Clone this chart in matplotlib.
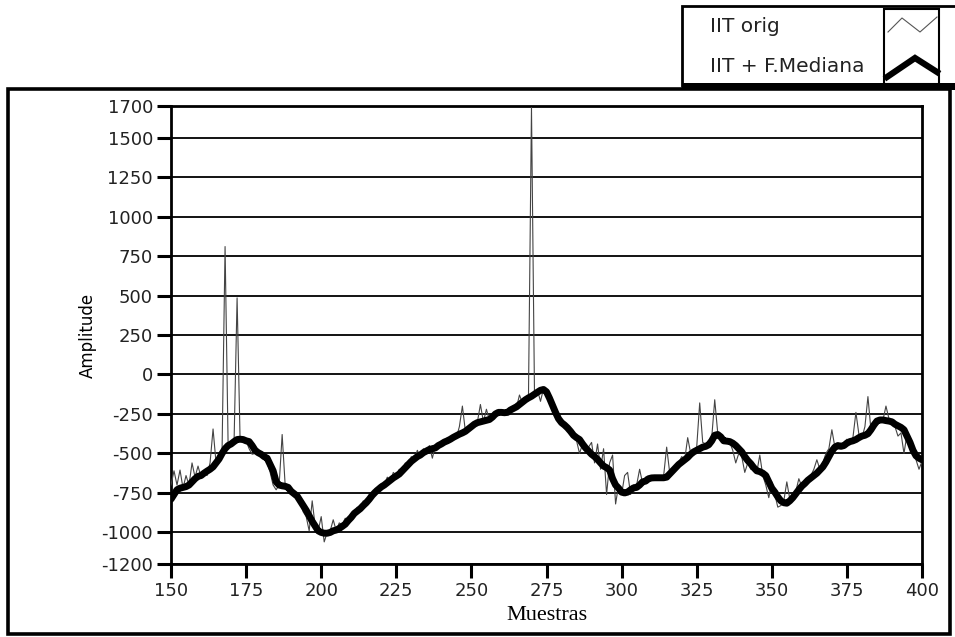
import numpy as np
import matplotlib.pyplot as plt
from matplotlib.patches import Rectangle
from matplotlib.lines import Line2D

plt.rcParams['axes.unicode_minus'] = False

# muestras 150..400
muestras = np.arange(150, 401)

iit_orig = [
    -700, -610, -700, -605, -720, -640, -700, -560, -650, -580,   # 150
    -650, -620, -640, -560, -345, -560, -530, -480, 810, -430,    # 160
    -445, -420, 485, -415, -405, -420, -470, -505, -500, -490,    # 170
    -500, -520, -560, -620, -700, -730, -700, -380, -700, -720,   # 180
    -740, -760, -780, -810, -870, -900, -990, -800, -960, -990,   # 190
    -900, -1060, -1000, -990, -920, -990, -940, -950, -910, -930, # 200
    -880, -890, -840, -860, -800, -820, -760, -780, -720, -740,   # 210
    -690, -700, -650, -680, -620, -640, -600, -620, -560, -580,   # 220
    -520, -540, -480, -520, -470, -500, -450, -530, -450, -460,   # 230
    -430, -440, -400, -420, -380, -400, -330, -200, -360, -340,   # 240
    -320, -310, -300, -190, -300, -220, -290, -270, -250, -250,   # 250
    -240, -250, -230, -220, -200, -210, -130, -180, -150, -140,   # 260
    1690, -120, -100, -170, -90, -120, -180, -230, -240, -300,    # 270
    -290, -330, -340, -380, -390, -420, -500, -440, -480, -460,   # 280
    -430, -560, -440, -600, -470, -760, -560, -510, -820, -700,   # 290
    -760, -640, -620, -760, -700, -700, -600, -690, -650, -660,   # 300
    -650, -660, -650, -660, -640, -460, -620, -600, -580, -560,   # 310
    -520, -540, -400, -500, -480, -460, -180, -430, -440, -420,   # 320
    -400, -160, -370, -390, -410, -420, -430, -480, -560, -500,   # 330
    -520, -620, -560, -600, -580, -620, -510, -640, -700, -780,   # 340
    -680, -760, -840, -830, -800, -680, -790, -770, -740, -660,   # 350
    -710, -680, -660, -640, -600, -540, -600, -560, -500, -470,   # 360
    -350, -460, -440, -450, -430, -410, -420, -400, -240, -380,   # 370
    -400, -330, -140, -350, -300, -300, -280, -290, -200, -280,   # 380
    -300, -330, -390, -370, -500, -380, -420, -460, -540, -600,   # 390
    -550,                                                         # 400
]

iit_mediana = [
    -790, -760, -730, -720, -715, -710, -700, -680, -660, -645,   # 150
    -640, -625, -612, -600, -585, -560, -535, -500, -470, -450,   # 160
    -440, -425, -412, -410, -412, -420, -425, -450, -480, -495,   # 170
    -505, -520, -530, -570, -610, -680, -700, -705, -708, -715,   # 180
    -740, -755, -770, -800, -830, -860, -895, -930, -960, -990,   # 190
    -1000, -1005, -1005, -1000, -990, -985, -975, -962, -948, -925, # 200
    -905, -880, -865, -850, -830, -812, -790, -765, -745, -728,   # 210
    -712, -700, -685, -670, -655, -643, -630, -610, -590, -570,   # 220
    -550, -535, -520, -510, -495, -485, -475, -470, -465, -450,   # 230
    -440, -428, -420, -410, -398, -388, -378, -370, -360, -345,   # 240
    -330, -315, -305, -300, -295, -290, -285, -270, -250, -240,   # 250
    -240, -242, -240, -225, -215, -205, -190, -175, -160, -148,   # 260
    -138, -125, -112, -100, -95, -110, -150, -195, -240, -280,    # 270
    -305, -320, -338, -360, -385, -400, -412, -440, -465, -485,   # 280
    -505, -520, -538, -560, -580, -590, -605, -660, -700, -720,   # 290
    -745, -750, -745, -730, -718, -715, -700, -680, -675, -660,   # 300
    -655, -654, -654, -654, -654, -650, -630, -610, -590, -570,   # 310
    -555, -540, -525, -505, -490, -480, -470, -460, -455, -445,   # 320
    -420, -385, -380, -395, -420, -422, -425, -435, -450, -470,   # 330
    -490, -520, -545, -565, -590, -610, -615, -625, -640, -680,   # 340
    -720, -745, -775, -800, -812, -815, -800, -780, -755, -730,   # 350
    -707, -690, -670, -655, -640, -625, -605, -585, -555, -520,   # 360
    -485, -460, -450, -455, -450, -435, -425, -420, -412, -400,   # 370
    -390, -385, -375, -350, -320, -295, -288, -288, -292, -295,   # 380
    -300, -315, -325, -335, -350, -390, -430, -480, -515, -530,   # 390
    -540,                                                         # 400
]

y_ticks = [1700, 1500, 1250, 1000, 750, 500, 250, 0, -250, -500, -750, -1000, -1200]
x_ticks = [150, 175, 200, 225, 250, 275, 300, 325, 350, 375, 400]
leyenda = ["IIT orig", "IIT + F.Mediana"]

W, H = 955, 637
fig = plt.figure(figsize=(W / 100, H / 100), dpi=100)


def fx(px):
    return px / W


def fy(py):
    return 1 - py / H


ax = fig.add_axes([fx(171), fy(564), fx(922) - fx(171), fy(106) - fy(564)])
ax.plot(muestras, iit_orig, color="#444444", lw=0.8, zorder=3)
ax.plot(muestras, iit_mediana, color="black", lw=5, solid_joinstyle="round",
        solid_capstyle="round", zorder=4)

ax.set_xlim(150, 400)
ax.set_ylim(-1200, 1700)
ax.set_yticks(y_ticks)
ax.set_xticks(x_ticks)
ax.yaxis.grid(True, color="black", lw=1.3)
ax.set_axisbelow(True)
for s in ax.spines.values():
    s.set_linewidth(2)
ax.tick_params(direction="out", length=10, width=2.2, labelsize=13, pad=3,
               labelcolor="#222222")

ax.set_xlabel("Muestras", family="Liberation Serif", fontsize=16, labelpad=4)
ax.set_ylabel("Amplitude", fontsize=12, labelpad=3)

# marco exterior
fig.add_artist(Rectangle((fx(8), fy(634)), fx(950) - fx(8), fy(89) - fy(634),
                         transform=fig.transFigure, fill=False, lw=2.6, ec="black"))

# caja de leyenda
fig.add_artist(Rectangle((fx(682), fy(87)), fx(960) - fx(682), fy(6) - fy(87),
                         transform=fig.transFigure, fill=False, lw=2.0, ec="black"))
fig.add_artist(Rectangle((fx(682), fy(90)), fx(960) - fx(682), fy(83) - fy(90),
                         transform=fig.transFigure, fill=True, lw=0, fc="black"))
fig.add_artist(Rectangle((fx(884), fy(84)), fx(939) - fx(884), fy(9) - fy(84),
                         transform=fig.transFigure, fill=False, lw=1.5, ec="black"))

fig.text(fx(710), fy(27), leyenda[0], fontsize=14.5, va="center", ha="left",
         family="DejaVu Sans", color="#222222")
fig.text(fx(710), fy(67), leyenda[1], fontsize=14.5, va="center", ha="left",
         family="DejaVu Sans", color="#222222")
fig.add_artist(Line2D([fx(888), fx(902), fx(920), fx(937)],
                      [fy(32), fy(18), fy(32), fy(17)],
                      transform=fig.transFigure, color="#555555", lw=0.8))
fig.add_artist(Line2D([fx(887), fx(915), fx(937)],
                      [fy(77), fy(58), fy(72)],
                      transform=fig.transFigure, color="black", lw=4.5,
                      solid_joinstyle="miter"))

fig.savefig("out.png", dpi=100)
